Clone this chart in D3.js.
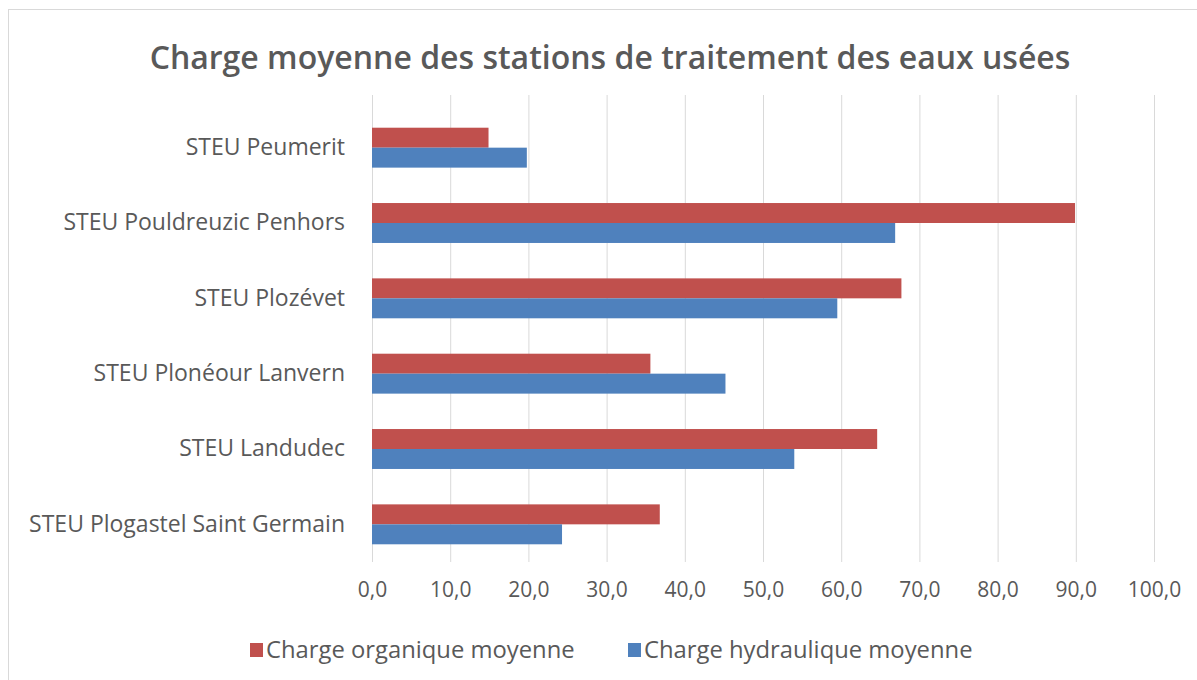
<!DOCTYPE html>
<html>
<head>
<meta charset="utf-8">
<script src="https://cdn.jsdelivr.net/npm/d3@7"></script>
<style>
  body { margin: 0; background: #fff; }
  text { font-family: "Open Sans", sans-serif; fill: #595959; }
</style>
</head>
<body>
<svg id="chart"></svg>
<script>
const stations = [
  'STEU Peumerit',
  'STEU Pouldreuzic Penhors',
  'STEU Plozévet',
  'STEU Plonéour Lanvern',
  'STEU Landudec',
  'STEU Plogastel Saint Germain'
];
const chargeOrganique = [14.9, 89.9, 67.7, 35.6, 64.6, 36.8];
const chargeHydraulique = [19.8, 66.9, 59.5, 45.2, 54.0, 24.3];
const seriesNames = ['Charge organique moyenne', 'Charge hydraulique moyenne'];
const xTicks = [0, 10, 20, 30, 40, 50, 60, 70, 80, 90, 100];
const title = 'Charge moyenne des stations de traitement des eaux usées';

const width = 1197, height = 680;
const colors = ['#C0504D', '#4F81BD'];
const margin = { top: 110, right: 43, bottom: 118, left: 372 };
const gridTop = 95;

const svg = d3.select('#chart').attr('width', width).attr('height', height);

// chart area border (runs off the right and bottom edges)
svg.append('rect')
  .attr('x', 8.5).attr('y', 9.5)
  .attr('width', width + 20).attr('height', height + 20)
  .attr('fill', '#fff').attr('stroke', '#D9D9D9');

const x = d3.scaleLinear().domain([0, 100]).range([margin.left, width - margin.right]);
const y = d3.scaleBand().domain(stations).range([margin.top, height - margin.bottom])
  .paddingInner(0.47).paddingOuter(0.235);
const ySub = d3.scaleBand().domain([0, 1]).range([0, y.bandwidth()]);

// gridlines
svg.append('g')
  .selectAll('line').data(xTicks).join('line')
  .attr('x1', d => x(d) + 0.5).attr('x2', d => x(d) + 0.5)
  .attr('y1', gridTop).attr('y2', height - margin.bottom)
  .attr('stroke', '#D9D9D9').attr('stroke-width', 1);

// x axis labels
const xAxis = d3.axisBottom(x).tickValues(xTicks).tickSize(0).tickPadding(20)
  .tickFormat(d => d3.format('.1f')(d).replace('.', ','));
svg.append('g')
  .attr('transform', `translate(0,${height - margin.bottom})`)
  .call(xAxis)
  .call(g => g.select('.domain').remove())
  .selectAll('text')
  .style('font-size', '21px').style('font-family', '"Open Sans", sans-serif').attr('fill', '#595959');

// y axis labels
const yAxis = d3.axisLeft(y).tickSize(0).tickPadding(27);
svg.append('g')
  .attr('transform', `translate(${margin.left},0)`)
  .call(yAxis)
  .call(g => g.select('.domain').remove())
  .selectAll('text')
  .style('font-size', '23px').style('font-family', '"Open Sans", sans-serif').attr('fill', '#595959');

// bars
const series = [chargeOrganique, chargeHydraulique];
series.forEach((vals, si) => {
  svg.append('g')
    .selectAll('rect').data(stations).join('rect')
    .attr('x', x(0))
    .attr('y', (d, i) => y(d) + ySub(si))
    .attr('width', (d, i) => x(vals[i]) - x(0))
    .attr('height', ySub.bandwidth())
    .attr('fill', colors[si]);
});

// title
svg.append('text')
  .attr('x', 610).attr('y', 69)
  .attr('text-anchor', 'middle')
  .style('font-size', '32px')
  .style('font-weight', '600')
  .text(title);

// legend
const legend = svg.append('g').attr('transform', 'translate(0,650)');
const legendX = [250, 628];
seriesNames.forEach((name, i) => {
  const g = legend.append('g').attr('transform', `translate(${legendX[i]},0)`);
  g.append('rect').attr('x', 0).attr('y', -7).attr('width', 13).attr('height', 14).attr('fill', colors[i]);
  g.append('text').attr('x', 16).attr('y', 0).attr('dy', '0.35em')
    .style('font-size', '23.8px').text(name);
});
</script>
</body>
</html>
